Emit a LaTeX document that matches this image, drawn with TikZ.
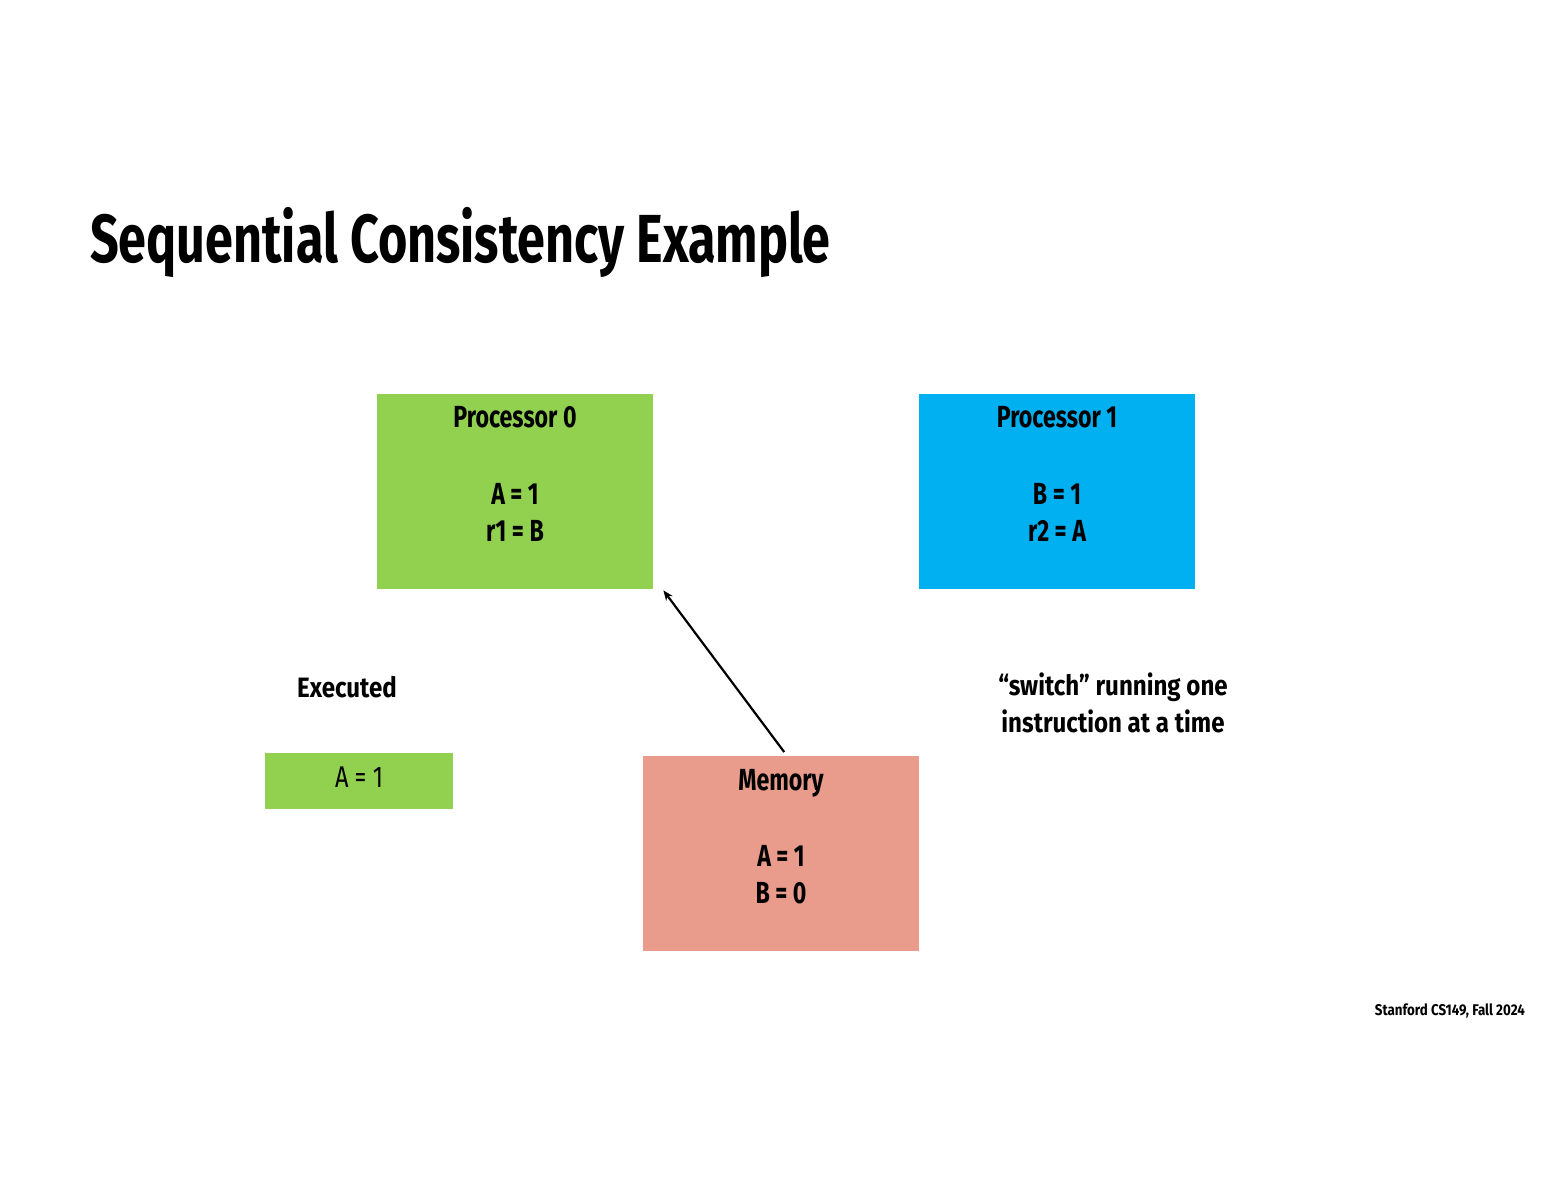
\documentclass[tikz,border=0pt]{standalone}
\usepackage{fontspec}
\setmainfont[FakeStretch=0.72]{Fira Sans}
\newfontfamily\titlefont[FakeStretch=0.74]{Fira Sans}
\newfontfamily\boxfont[FakeStretch=0.76]{Fira Sans}
\newfontfamily\plainfont[FakeStretch=0.785]{Fira Sans}
\newfontfamily\lblfont[FakeStretch=0.86]{Fira Sans}
\usetikzlibrary{arrows.meta}
\definecolor{pgreen}{HTML}{92D050}
\definecolor{pblue}{HTML}{00B0F0}
\definecolor{psalmon}{HTML}{E99B8C}
\begin{document}
\begin{tikzpicture}[x=1pt,y=-1pt,
  box/.style={minimum width=276pt,minimum height=195pt,inner sep=0pt,anchor=north west,draw=none},
  boxtxt/.style={font=\boxfont\bfseries\fontsize{30.5}{36}\selectfont,anchor=base,inner sep=0pt},
  plain/.style={font=\plainfont\fontsize{30}{36}\selectfont,anchor=base,inner sep=0pt},
  lbl/.style={font=\lblfont\bfseries\fontsize{28}{36}\selectfont,anchor=base,inner sep=0pt},
  arr/.style={-{Stealth[length=10pt,width=8pt]},line width=2.2pt}]
\useasboundingbox (0,0) rectangle (1553,1200);
% title
\node[font=\titlefont\bfseries\fontsize{68}{80}\selectfont,anchor=base west,inner sep=0pt] (title) at (90,262) {Sequential Consistency Example};
% processor 0
\node[box,fill=pgreen] (p0) at (377,394) {};
\node[boxtxt] (p0t) at (515,427) {Processor 0};
\node[boxtxt] (p0a) at (515,504) {A = 1};
\node[boxtxt] (p0b) at (515,541) {r1 = B};
% processor 1
\node[box,fill=pblue] (p1) at (919,394) {};
\node[boxtxt] (p1t) at (1057,427) {Processor 1};
\node[boxtxt] (p1a) at (1057,504) {B = 1};
\node[boxtxt] (p1b) at (1057,541) {r2 = A};
% memory
\node[box,fill=psalmon] (mem) at (643,756) {};
\node[boxtxt] (memt) at (781,790) {Memory};
\node[boxtxt] (mema) at (781,866) {A = 1};
\node[boxtxt] (memb) at (781,903) {B = 0};
% executed
\node[lbl] (exec) at (347,697) {Executed};
\node[anchor=north west,minimum width=188pt,minimum height=56pt,inner sep=0pt,fill=pgreen] (ex1) at (265,753) {};
\node[plain] (ex1t) at (359,787) {A = 1};
% switch text
\node[lbl] (sw1) at (1113,695) {“switch” running one};
\node[lbl] (sw2) at (1113,732) {instruction at a time};
% footer
\node[font=\lblfont\bfseries\fontsize{15.5}{18}\selectfont,anchor=base east,inner sep=0pt] (foot) at (1525,1015) {Stanford CS149, Fall 2024};
% arrow
\path (mem.north) ++(3,-4) coordinate (tail);
\path (p0.south east) ++(10,1) coordinate (tip);
\draw[arr] (tail) -- (tip);
\end{tikzpicture}
\end{document}
